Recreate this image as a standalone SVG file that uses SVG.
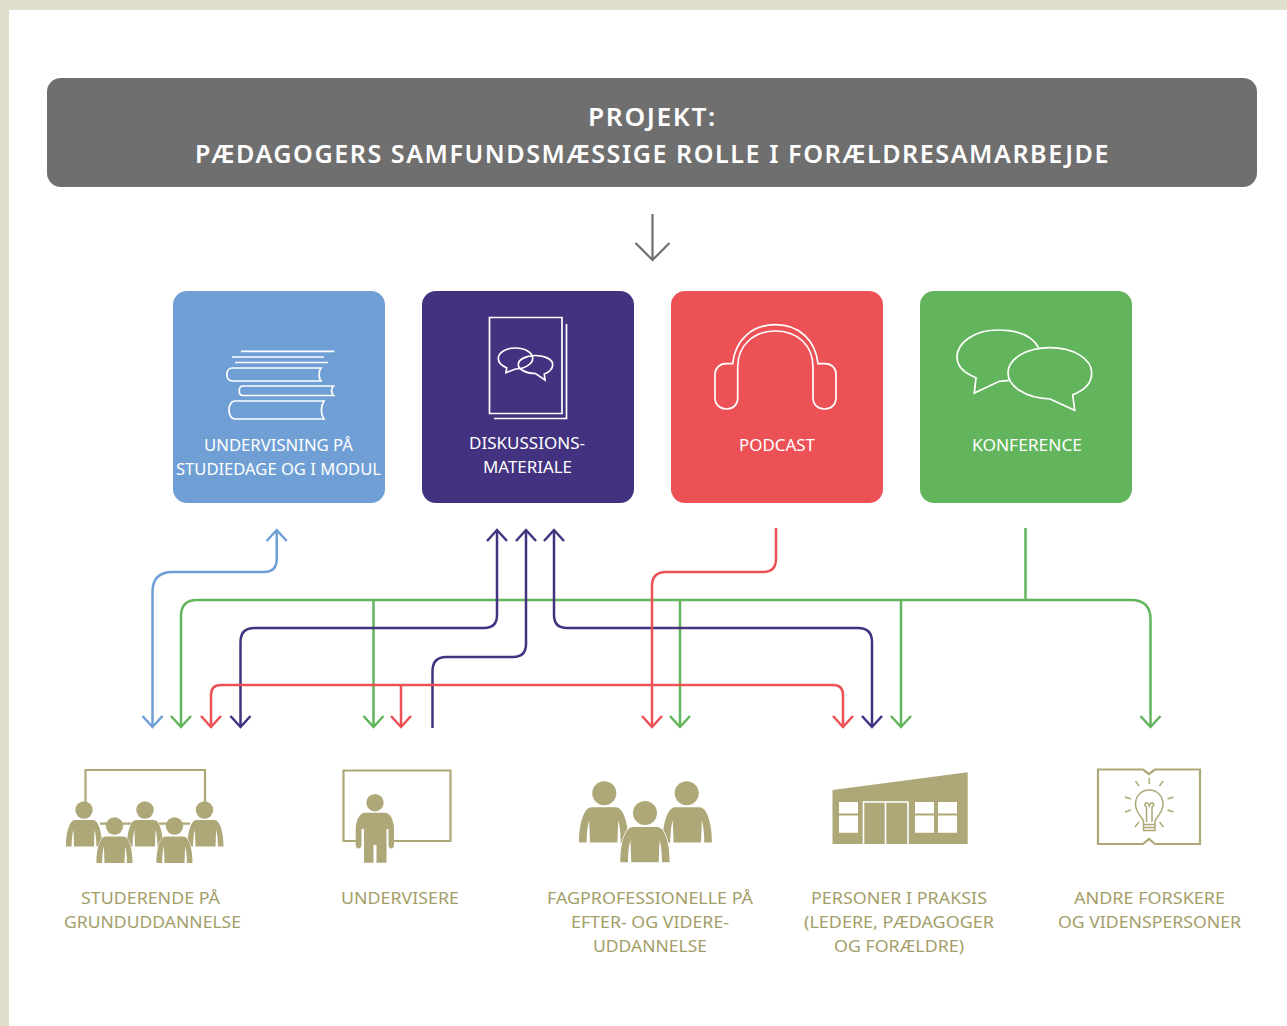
<svg xmlns="http://www.w3.org/2000/svg" width="1287" height="1026" viewBox="0 0 1287 1026">
<style>
text{font-family:"Noto Sans","Open Sans","Liberation Sans",sans-serif}
.t{font-size:24.500px;font-weight:600;fill:#fff;letter-spacing:1.500px}
.w{font-size:17px;fill:#fff}
.o{font-size:17px;fill:#a39e68}
.i{fill:none;stroke:#fff;stroke-width:1.700;stroke-linejoin:miter}
.c{fill:none;stroke-width:2.500}
.blue{stroke:#6f9fd5}.green{stroke:#62b55c}.red{stroke:#ec5156}.navy{stroke:#423280}
.tan{fill:#aea878}
.tl{fill:none;stroke:#aea878;stroke-width:2.200}
.body{fill:#aea878;stroke:#fff;stroke-width:1;paint-order:stroke}
</style>
<defs>
<path id="b" d="M-9 0H9C14 0 18 11 18 26.500H12.400C12.400 20 11.800 14 10.600 10L10 26.500H-10L-10.600 10C-11.800 14 -12.400 20 -12.400 26.500H-18C-18 11 -14 0 -9 0Z"/>
<path id="h" d="M-10 -11L0 0L10 -11" fill="none" stroke-width="2.500"/>
</defs>
<rect width="1287" height="1026" fill="#fff"/>
<path d="M0 0H1287V10H9V1026H0Z" fill="#e0dfcb"/>
<g id="project">
<rect x="47" y="78" width="1210" height="109" rx="14" fill="#6f6f6f"/>
<text class="t" x="588" y="126" textLength="129" lengthAdjust="spacingAndGlyphs">PROJEKT:</text>
<text class="t" x="195" y="163" textLength="915" lengthAdjust="spacingAndGlyphs">PÆDAGOGERS SAMFUNDSMÆSSIGE ROLLE I FORÆLDRESAMARBEJDE</text>
</g>
<g id="project-arrow" fill="none" stroke="#6f6f6f" stroke-width="2.200"><path d="M652.500 214V260M635.500 243L652.500 260L669.500 243"/></g>
<g id="undervisning">
<rect x="173" y="291" width="212" height="212" rx="14" fill="#6f9fd5"/>
<path class="i" d="M241 351.300H334.500M232 357H324M235 362.500H328M321 368H232.500C225 368 225 381 232.500 381H321C318.500 378 318.500 371 321 368ZM333.500 386H243C238 386 238 395.500 243 395.500H333.500C331 392.500 331 389 333.500 386ZM324 401H235C227 401 227 419 235 419H324C320.500 414 320.500 406 324 401Z"/>
<text class="w" x="204" y="451" textLength="149" lengthAdjust="spacingAndGlyphs">UNDERVISNING PÅ</text>
<text class="w" x="176" y="475" textLength="205" lengthAdjust="spacingAndGlyphs">STUDIEDAGE OG I MODUL</text>
</g>
<g id="diskussion">
<rect x="422" y="291" width="212" height="212" rx="14" fill="#423280"/>
<path class="i" d="M489.500 317.500H562V413.500H489.500ZM494 418.500H566.500V324"/>
<path class="i" d="M506 372.700L506.700 367.700C501 365.500 498.300 362 498.300 358.500C498.300 352.500 506 348 515.500 348C525 348 532.700 352.500 532.700 358.500C532.700 363.500 525 369 515.500 369Z"/>
<path class="i" d="M545 380L544.300 374C549.500 372 552.700 368.500 552.700 364.500C552.700 359.500 545 355.500 535.500 355.500C526 355.500 518.300 359.500 518.300 364.500C518.300 369.500 526 373.500 535.500 373.500Z"/>
<text class="w" x="469" y="449" textLength="116" lengthAdjust="spacingAndGlyphs">DISKUSSIONS-</text>
<text class="w" x="483" y="473" textLength="89" lengthAdjust="spacingAndGlyphs">MATERIALE</text>
</g>
<g id="podcast">
<rect x="671" y="291" width="212" height="212" rx="14" fill="#ec5156"/>
<path class="i" d="M732.700 363.700C735 340 752 324.700 775.500 324.700C799 324.700 815.500 340 818 363.700H825C831.500 363.700 836 368 836 374V398C836 404.500 831.500 409 825 409H824C818 409 813 404.500 813 398V367C813 345 797 331 775.500 331C754 331 737.700 345 737.700 367V398C738 404.500 733 409 727 409H726C720 409 715 404.500 715 398V374C715 368 720 363.700 726 363.700Z"/>
<text class="w" x="739" y="451" textLength="76" lengthAdjust="spacingAndGlyphs">PODCAST</text>
</g>
<g id="konference">
<rect x="920" y="291" width="212" height="212" rx="14" fill="#62b55c"/>
<path class="i" d="M1038.700 347.700C1032 336 1017 330 998 330C974 330 957 343 957 357C957 366 964 373 976 377.700L974.300 393L999.300 381.300L1009.300 380.300"/>
<path class="i" d="M1050 399C1025 398 1008 386 1008 373C1008 359 1026 347.700 1050 347.700C1074 347.700 1091.700 359 1091.700 373C1091.700 383 1084 390.500 1072.700 394.700L1074.700 410.300Z"/>
<text class="w" x="972" y="451" textLength="110" lengthAdjust="spacingAndGlyphs">KONFERENCE</text>
</g>
<g id="connectors">
<g class="blue"><path class="c" d="M152.500 726V592Q152.500 572 172.500 572H264Q276.700 572 276.700 559V531"/><use href="#h" x="152.500" y="727"/><use href="#h" transform="translate(276.700 530) rotate(180)"/></g>
<g class="green"><path class="c" d="M181 726V616Q181 600 197 600H1131Q1150.500 600 1150.500 619.500V726M373.500 600V726M680 600V726M901 600V726M1025.500 528V600"/><use href="#h" x="181" y="727"/><use href="#h" x="373.500" y="727"/><use href="#h" x="680" y="727"/><use href="#h" x="901" y="727"/><use href="#h" x="1150.500" y="727"/></g>
<g class="navy"><path class="c" d="M240.500 726V642Q240.500 628 254.500 628H484Q497 628 497 615V531M432.500 728V671Q432.500 657 446.500 657H513Q526 657 526 644V531M554 531V615Q554 628 567 628H858Q872 628 872 642V726"/><use href="#h" x="240.500" y="727"/><use href="#h" x="872" y="727"/><use href="#h" transform="translate(497 530) rotate(180)"/><use href="#h" transform="translate(526 530) rotate(180)"/><use href="#h" transform="translate(554 530) rotate(180)"/></g>
<g class="red"><path class="c" d="M211 726V695Q211 685 221 685H833Q843 685 843 695V726M401 685V726M776 528V559Q776 572 763 572H666Q652 572 652 586V726"/><use href="#h" x="211" y="727"/><use href="#h" x="401" y="727"/><use href="#h" x="652" y="727"/><use href="#h" x="843" y="727"/></g>
</g>
<g id="studerende">
<path class="tl" d="M85.500 805V770H205V805M100 823.700H190"/>
<circle class="tan" cx="84" cy="810" r="8.700"/><circle class="tan" cx="145" cy="810" r="8.700"/><circle class="tan" cx="204.500" cy="810" r="8.700"/>
<use href="#b" class="body" x="84" y="820"/><use href="#b" class="body" x="145" y="820"/><use href="#b" class="body" x="205.500" y="820"/>
<circle class="tan" cx="114.500" cy="826" r="8.700"/><circle class="tan" cx="174.500" cy="826" r="8.700"/>
<use href="#b" class="body" x="114.500" y="836.500"/><use href="#b" class="body" x="174.500" y="836.500"/>
<text class="o" x="81" y="904" textLength="139" lengthAdjust="spacingAndGlyphs">STUDERENDE PÅ</text>
<text class="o" x="64" y="928" textLength="177" lengthAdjust="spacingAndGlyphs">GRUNDUDDANNELSE</text>
</g>
<g id="undervisere">
<path class="tl" d="M358 841H343.500V770.500H450.500V841H390"/>
<circle class="tan" cx="375" cy="802.700" r="8.700"/>
<path class="tan" d="M365 812.700H385C390 812.700 394 820 394 829V845C394 849.500 388.500 849.500 388.500 845V829H386.500V862.700H376.500V845H373.500V862.700H364V829H361.500V845C361.500 849.500 355.700 849.500 355.700 845V829C355.700 820 360 812.700 365 812.700Z"/>
<text class="o" x="341" y="904" textLength="118" lengthAdjust="spacingAndGlyphs">UNDERVISERE</text>
</g>
<g id="fagprofessionelle">
<circle class="tan" cx="604.300" cy="793.300" r="12"/><circle class="tan" cx="686.700" cy="793.300" r="12"/>
<use href="#b" class="body" transform="translate(603.700 807.300) scale(1.370 1.330)"/>
<use href="#b" class="body" transform="translate(687.300 807.300) scale(1.370 1.330)"/>
<circle class="tan" cx="645" cy="813" r="12"/>
<use href="#b" class="body" transform="translate(645 827) scale(1.370 1.330)"/>
<text class="o" x="547" y="904" textLength="206" lengthAdjust="spacingAndGlyphs">FAGPROFESSIONELLE PÅ</text>
<text class="o" x="571" y="928" textLength="158" lengthAdjust="spacingAndGlyphs">EFTER- OG VIDERE-</text>
<text class="o" x="593" y="952" textLength="114" lengthAdjust="spacingAndGlyphs">UDDANNELSE</text>
</g>
<g id="personer">
<path class="tan" d="M832.500 790L967.700 772.300V844H832.500Z"/>
<path fill="#fff" d="M839 802H858V813.500H839ZM839 815.500H858V832.700H839ZM915 802H934V813.500H915ZM915 815.500H934V832.700H915ZM938 802H957V813.500H938ZM938 815.500H957V832.700H938Z"/>
<path d="M863.500 844V802H908V844M885.500 802V844" fill="none" stroke="#fff" stroke-width="1.600"/>
<text class="o" x="811" y="904" textLength="176" lengthAdjust="spacingAndGlyphs">PERSONER I PRAKSIS</text>
<text class="o" x="804" y="928" textLength="190" lengthAdjust="spacingAndGlyphs">(LEDERE, PÆDAGOGER</text>
<text class="o" x="834" y="952" textLength="130" lengthAdjust="spacingAndGlyphs">OG FORÆLDRE)</text>
</g>
<g id="andre">
<path class="tl" d="M1098 769.500H1143L1149 774L1155 769.500H1200V844H1155L1149 839L1143 844H1098Z"/>
<path class="tl" style="stroke-width:1.500" d="M1143.500 822C1143.500 817 1135.500 814 1135.500 804C1135.500 796 1141.500 790 1149.300 790C1157 790 1163 796 1163 804C1163 814 1155 817 1155 822V830.500H1143.500ZM1143.500 824.500H1155M1143.500 827.500H1155M1146.500 822V807M1152 822V807M1146.500 807C1143 804 1146 801.500 1148 803.500L1149.300 806L1150.500 803.500C1152.500 801.500 1155.500 804 1152 807M1149.300 778V784M1135.500 781L1139 786M1163 781L1159.500 786M1125 797L1131 799M1173.500 797L1167.500 799M1125 812L1131 810M1173.500 812L1167.500 810M1135 827L1139 822M1163.500 827L1159.500 822"/>
<text class="o" x="1074" y="904" textLength="151" lengthAdjust="spacingAndGlyphs">ANDRE FORSKERE</text>
<text class="o" x="1058" y="928" textLength="183" lengthAdjust="spacingAndGlyphs">OG VIDENSPERSONER</text>
</g>
</svg>
